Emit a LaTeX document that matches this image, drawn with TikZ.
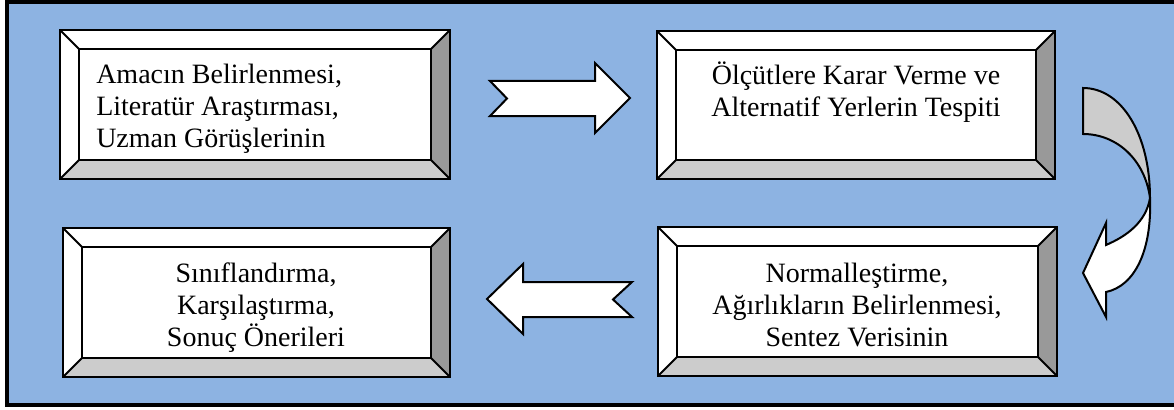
\documentclass[tikz,border=0pt]{standalone}
\usepackage{fontspec}
\setmainfont{Liberation Serif}
\definecolor{bgblue}{RGB}{141,179,226}
\definecolor{lgray}{RGB}{204,204,204}
\definecolor{dgray}{RGB}{153,153,153}
\tikzset{
  edge/.style={draw=black, line width=1.5pt, line join=miter},
  blockarrow/.style={draw=black, line width=1.5pt, fill=white, line join=miter},
  label/.style={inner sep=0pt, font=\fontsize{21}{24}\selectfont},
}
% bevel box: #1 name, (#2,#3) outer top-left, (#4,#5) outer bottom-right, #6 bevel
\newcommand{\bevelbox}[6]{%
  \coordinate (#1-a) at (#2,#3);
  \coordinate (#1-b) at (#4,#3);
  \coordinate (#1-c) at (#4,#5);
  \coordinate (#1-d) at (#2,#5);
  \coordinate (#1-ia) at (#2+#6,#3+#6);
  \coordinate (#1-ib) at (#4-#6,#3+#6);
  \coordinate (#1-ic) at (#4-#6,#5-#6);
  \coordinate (#1-id) at (#2+#6,#5-#6);
  \fill[white] (#1-a) -- (#1-b) -- (#1-ib) -- (#1-ia) -- cycle;
  \fill[white] (#1-a) -- (#1-ia) -- (#1-id) -- (#1-d) -- cycle;
  \fill[dgray] (#1-b) -- (#1-c) -- (#1-ic) -- (#1-ib) -- cycle;
  \fill[lgray] (#1-d) -- (#1-id) -- (#1-ic) -- (#1-c) -- cycle;
  \fill[white] (#1-ia) rectangle (#1-ic);
  \draw[edge] (#1-a) -- (#1-b) -- (#1-c) -- (#1-d) -- cycle;
  \draw[edge] (#1-ia) -- (#1-ib) -- (#1-ic) -- (#1-id) -- cycle;
  \draw[edge] (#1-a) -- (#1-ia) (#1-b) -- (#1-ib) (#1-c) -- (#1-ic) (#1-d) -- (#1-id);
}
\begin{document}
\begin{tikzpicture}[x=0.75pt,y=-0.75pt]
\useasboundingbox (0,0) rectangle (1174,410);
\clip (0,0) rectangle (1174,410);
\fill[white] (0,0) rectangle (1174,410);
\draw[line width=3.2pt, fill=bgblue] (7,2) rectangle (1190,405);

\bevelbox{b1}{60}{30}{450}{179}{19}
\bevelbox{b2}{657}{31}{1055}{179}{19}
\bevelbox{b3}{63}{228}{450}{377}{19}
\bevelbox{b4}{658}{227}{1057}{376}{19}

\node[label, anchor=base west, align=left] (t1) at (96,147)
  {Amacın Belirlenmesi,\\Literatür Araştırması,\\Uzman Görüşlerinin};
\node[label, anchor=base, align=center] (t2) at (856,116)
  {Ölçütlere Karar Verme ve\\Alternatif Yerlerin Tespiti};
\node[label, anchor=base, align=center] (t3) at (256,346)
  {Sınıflandırma,\\Karşılaştırma,\\Sonuç Önerileri};
\node[label, anchor=base, align=center] (t4) at (857,346)
  {Normalleştirme,\\Ağırlıkların Belirlenmesi,\\Sentez Verisinin};

% right block arrow
\draw[blockarrow] (490,81) -- (595,81) -- (595,63) -- (630,98) -- (595,133)
  -- (595,116) -- (490,116) -- (507,98.5) -- cycle;
% left block arrow
\draw[blockarrow] (487,299) -- (523,264) -- (523,282) -- (632,282) -- (613,299.5)
  -- (632,317) -- (523,317) -- (523,334) -- cycle;
% curved arrow
\draw[edge, fill=lgray] (1083,88) .. controls (1122,88) and (1150,135) .. (1150,198)
  .. controls (1145,160) and (1117,134) .. (1083,134) -- cycle;
\draw[edge, fill=white] (1150,198) .. controls (1152,250) and (1135,286) .. (1106,292)
  -- (1106,317) -- (1083,273) -- (1106,223) -- (1106,245)
  .. controls (1127,236) and (1146,222) .. (1150,198);
\end{tikzpicture}
\end{document}
